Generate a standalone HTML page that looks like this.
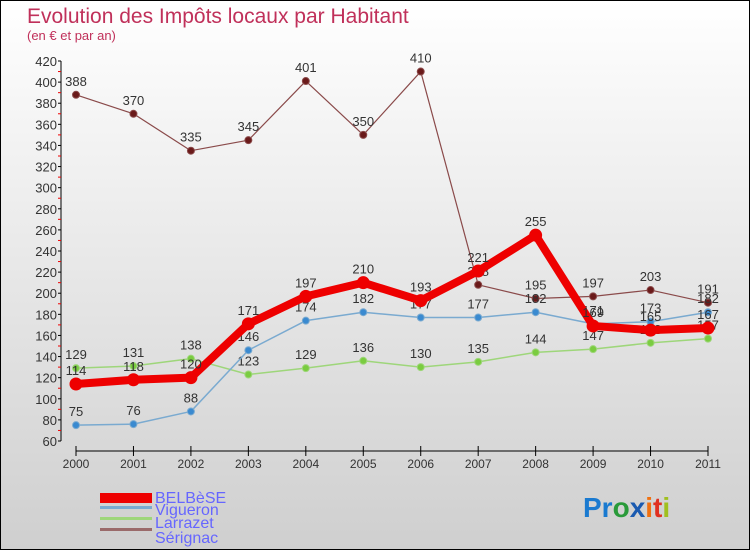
<!DOCTYPE html>
<html><head><meta charset="utf-8"><style>
body{margin:0}
#c{width:748px;height:548px;border:1px solid #000;background:linear-gradient(#fff,#cfcfcf);position:relative;font-family:"Liberation Sans",sans-serif;overflow:hidden}
</style></head><body>
<div id="c">
<svg id="s" width="748" height="548">
<text x="26" y="22" font-size="21" fill="#c0305a">Evolution des Impôts locaux par Habitant</text>
<text x="26" y="39" font-size="13" fill="#c0305a">(en € et par an)</text>
<g id="ax"></g><g id="ser"></g>
<g>
<rect x="99" y="492" width="52" height="10" fill="#e00"/>
<text x="154" y="502" font-size="16" fill="#6666ff">BELBèSE</text>
<rect x="99" y="505" width="52" height="3" fill="#7aaad0"/>
<text x="154" y="514" font-size="16" fill="#6666ff">Vigueron</text>
<rect x="99" y="516" width="52" height="3" fill="#9ed67a"/>
<text x="154" y="527" font-size="16" fill="#6666ff">Larrazet</text>
<rect x="99" y="527" width="52" height="3" fill="#9a6a6a"/>
<text x="154" y="542" font-size="16" fill="#6666ff">Sérignac</text>
</g>
<text x="582" y="516" font-size="28" font-weight="bold"><tspan fill="#1a7ad0">Pr</tspan><tspan fill="#2a9a3a">o</tspan><tspan fill="#1a5ab0">x</tspan><tspan fill="#f07010">i</tspan><tspan fill="#e03020">t</tspan><tspan fill="#a0c020">i</tspan></text>
</svg></div>
<script>
const years=[2000,2001,2002,2003,2004,2005,2006,2007,2008,2009,2010,2011];
const belbese=[114,118,120,171,197,210,193,221,255,169,165,167];
const vigueron=[75,76,88,146,174,182,177,177,182,171,173,182];
const larrazet=[129,131,138,123,129,136,130,135,144,147,153,157];
const serignac=[388,370,335,345,401,350,410,208,195,197,203,191];
const yTicks=[60,80,100,120,140,160,180,200,220,240,260,280,300,320,340,360,380,400,420];
const NS="http://www.w3.org/2000/svg";
const X=i=>75+i*(632/11), Y=v=>440-(v-60)*380/360;
function mk(p,t,a){const e=document.createElementNS(NS,t);for(const k in a)e.setAttribute(k,a[k]);p.appendChild(e);return e;}
const ax=document.getElementById('ax'),ser=document.getElementById('ser');
let l=mk(ax,'line',{x1:60,y1:Y(420),x2:60,y2:Y(60),stroke:'#000'});


yTicks.forEach((v,i)=>{
 let t=mk(ax,'line',{x1:57,x2:60,y1:Y(v),y2:Y(v),stroke:'#000'});
 
 
 if(i<yTicks.length-1){let m=mk(ax,'line',{x1:57,x2:60,y1:Y(v+10),y2:Y(v+10),stroke:'#e00'});
 
 }
 let tx=mk(ax,'text',{x:56,y:Y(v)+5,'font-size':13,fill:'#333','text-anchor':'end'});tx.textContent=v;
 
 
});
l=mk(ax,'line',{x1:75,y1:450,x2:707,y2:450,stroke:'#000'});


years.forEach((y,i)=>{
 let t=mk(ax,'line',{x1:X(i),x2:X(i),y1:445,y2:455,stroke:'#000'});
 
 
 let tx=mk(ax,'text',{x:X(i),y:467,'font-size':12,fill:'#333','text-anchor':'middle'});tx.textContent=y;
 
 
});
function draw(data,name,col,dot,w,r){
 const g=mk(ser,'g',{});
 
 
 const pl=mk(g,'polyline',{points:data.map((v,i)=>X(i)+','+Y(v)).join(' '),fill:'none',stroke:col,'stroke-width':w,'stroke-linejoin':'round'});
 
 
 data.forEach((v,i)=>{
  const c=mk(g,'circle',{cx:X(i),cy:Y(v),r:r,fill:dot,stroke:col,'stroke-width':1});
  
  
  const t=mk(g,'text',{x:X(i),y:Y(v)-9,'font-size':13,fill:'#333','text-anchor':'middle'});t.textContent=v;
  
  
 });
}
draw(serignac,'serignac','#8a4a4a','#6a1a1a',1.2,3.5);
draw(larrazet,'larrazet','#9ed67a','#7acc40',1.5,3.5);
draw(vigueron,'vigueron','#7aaad0','#3a8ad0',1.5,3.5);
draw(belbese,'belbese','#ee0000','#ee0000',8,6);
</script>
</body></html>
